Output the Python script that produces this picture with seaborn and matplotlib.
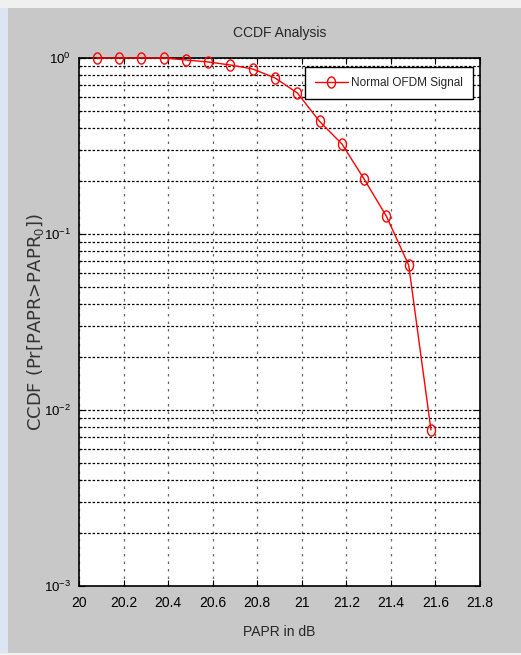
import matplotlib
matplotlib.use("Agg")
import matplotlib.pyplot as plt
import seaborn as sns
import pandas as pd
import numpy as np
from matplotlib.patches import Rectangle
from matplotlib.path import Path
from matplotlib.ticker import LogLocator, FixedLocator

papr_db = [20.08, 20.18, 20.28, 20.38, 20.48, 20.58, 20.68, 20.78,
           20.88, 20.98, 21.08, 21.18, 21.28, 21.38, 21.48, 21.58]
ccdf = [1.0, 1.0, 1.0, 1.0, 0.974, 0.949, 0.912, 0.866,
        0.770, 0.633, 0.436, 0.325, 0.205, 0.126, 0.0665, 0.0077]
series_name = "Normal OFDM Signal"
x_ticks = [20, 20.2, 20.4, 20.6, 20.8, 21, 21.2, 21.4, 21.6, 21.8]
x_tick_labels = ["20", "20.2", "20.4", "20.6", "20.8", "21", "21.2", "21.4", "21.6", "21.8"]

df = pd.DataFrame({"PAPR": papr_db, "CCDF": ccdf})

sns.set_style("ticks")
plt.rcParams['font.family'] = ['Liberation Sans', 'DejaVu Sans']
plt.rcParams['mathtext.fontset'] = 'custom'
plt.rcParams['mathtext.rm'] = 'Liberation Sans'
plt.rcParams['mathtext.it'] = 'Liberation Sans'

fig = plt.figure(figsize=(5.21, 6.55), dpi=100)
fig.patch.set_facecolor("#c8c8c8")
# window frame
fig.patches.append(Rectangle((0, 0.988), 1, 0.012, transform=fig.transFigure,
                             facecolor="#f0f0f0", edgecolor="none", zorder=-1))
fig.patches.append(Rectangle((0, 0), 0.016, 0.988, transform=fig.transFigure,
                             facecolor="#dbe6f2", edgecolor="none", zorder=-1))
fig.patches.append(Rectangle((0, 0), 1, 0.003, transform=fig.transFigure,
                             facecolor="#f0f0f0", edgecolor="none", zorder=-1))

ax = fig.add_axes([0.1516, 0.1053, 0.9213 - 0.1516, 0.9115 - 0.1053])
ax.set_facecolor("white")

t = np.linspace(0, 2 * np.pi, 40)
ellipse = Path(np.column_stack([0.72 * np.cos(t), np.sin(t)]), closed=True)

sns.lineplot(data=df, x="PAPR", y="CCDF", ax=ax, color="red", linewidth=1.0,
             marker=ellipse, markersize=8, markerfacecolor="none",
             markeredgecolor="red", markeredgewidth=1.0, label=series_name,
             clip_on=False, zorder=5)

ax.set_yscale("log")
ax.set_xlim(20, 21.8)
ax.set_ylim(1e-3, 1)
ax.xaxis.set_major_locator(FixedLocator(x_ticks))
ax.set_xticklabels(x_tick_labels)
ax.yaxis.set_minor_locator(LogLocator(base=10, subs=np.arange(2, 10), numticks=10))
ax.set_yticks([1e-3, 1e-2, 1e-1, 1])
ax.set_yticklabels([r"$10^{-3}$", r"$10^{-2}$", r"$10^{-1}$", r"$10^{0}$"])

ax.grid(True, which="major", axis="y", color="black", linestyle=(0, (2, 1.5)), linewidth=0.9)
ax.grid(True, which="minor", axis="y", color="black", linestyle=(0, (2, 1.5)), linewidth=0.9)
ax.grid(True, which="major", axis="x", color="#666666", linestyle=(0, (2, 4)), linewidth=0.9)
ax.tick_params(direction="in", which="both", top=True, right=True, labelsize=10,
               length=4, width=0.8, colors="black")
ax.tick_params(axis="y", labelsize=9.5, pad=6)
ax.tick_params(which="minor", length=2)
ax.tick_params(axis="x", pad=7)
for sp in ax.spines.values():
    sp.set_visible(True)
    sp.set_color("black")
    sp.set_linewidth(1.2)

ax.set_title("CCDF Analysis", fontsize=10, pad=15)
ax.set_xlabel("PAPR in dB", fontsize=10, labelpad=11)
ax.set_ylabel("CCDF (Pr[PAPR>PAPR$_0$])", fontsize=13,
              family=['DejaVu Sans'], color="#333333")
ax.yaxis.set_label_coords(-0.082, 0.5)

leg = ax.legend(loc="upper right", bbox_to_anchor=(0.983, 0.983),
                fontsize=8.5, frameon=True, fancybox=False,
                borderpad=0.85, handlelength=2.8, handletextpad=0.3,
                borderaxespad=0)
leg.get_frame().set_edgecolor("black")
leg.get_frame().set_linewidth(1.0)
leg.get_frame().set_alpha(1.0)
leg.set_zorder(10)

fig.savefig("out.png", dpi=100, facecolor=fig.get_facecolor())
